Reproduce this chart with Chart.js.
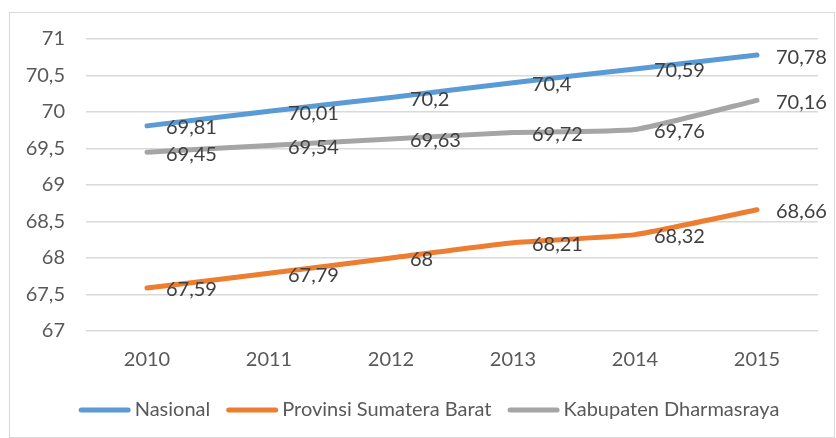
<!DOCTYPE html>
<html><head><meta charset="utf-8">
<script src="https://cdn.jsdelivr.net/npm/chart.js@4"></script>
<style>
html,body{margin:0;padding:0;background:#fff;}
#wrap{position:relative;width:836px;height:438px;}
#frame{position:absolute;left:9px;top:12px;width:826px;height:426px;border:1.5px solid #d9d9d9;box-sizing:border-box;}
canvas{position:absolute;left:0;top:0;}
</style></head>
<body><div id="wrap"><div id="frame"></div><canvas id="c" width="836" height="438"></canvas></div>
<script>
const years = ['2010','2011','2012','2013','2014','2015'];
const nasional = [69.81, 70.01, 70.2, 70.4, 70.59, 70.78];
const sumbar = [67.59, 67.79, 68, 68.21, 68.32, 68.66];
const dharmasraya = [69.45, 69.54, 69.63, 69.72, 69.76, 70.16];
const seriesNames = ['Nasional', 'Provinsi Sumatera Barat', 'Kabupaten Dharmasraya'];
const yTicks = [67, 67.5, 68, 68.5, 69, 69.5, 70, 70.5, 71];

const fmt = v => String(v).replace('.', ',');
const FONT = 'Lato, "Liberation Sans", sans-serif';
const TEXT = '#595959';

const labelPlugin = {
  id: 'pointLabels',
  afterDatasetsDraw(chart) {
    const ctx = chart.ctx;
    ctx.save();
    ctx.font = '20px ' + FONT;
    ctx.fillStyle = '#404040';
    ctx.textAlign = 'left';
    ctx.textBaseline = 'middle';
    chart.data.datasets.forEach((ds, i) => {
      const meta = chart.getDatasetMeta(i);
      meta.data.forEach((pt, j) => {
        ctx.fillText(fmt(ds.data[j]), pt.x + 19, pt.y + 2);
      });
    });
    ctx.restore();
  }
};

// custom bottom legend (text drawn from dataset labels)
const legendPlugin = {
  id: 'customLegend',
  afterDraw(chart) {
    const ctx = chart.ctx;
    ctx.save();
    ctx.font = '20px ' + FONT;
    const lineLen = 52, gapText = 4, gapItem = 16;
    const items = chart.data.datasets.map(ds => ({
      label: ds.label, color: ds.borderColor, w: ctx.measureText(ds.label).width
    }));
    const total = items.reduce((s, it) => s + lineLen + gapText + it.w, 0) + gapItem * (items.length - 1);
    let x = 429 - total / 2;
    const y = 410;
    ctx.textBaseline = 'middle';
    ctx.textAlign = 'left';
    items.forEach(it => {
      ctx.strokeStyle = it.color;
      ctx.lineWidth = 5;
      ctx.lineCap = 'round';
      ctx.beginPath();
      ctx.moveTo(x + 2.5, y);
      ctx.lineTo(x + lineLen - 2.5, y);
      ctx.stroke();
      ctx.fillStyle = TEXT;
      ctx.fillText(it.label, x + lineLen + gapText, y);
      x += lineLen + gapText + it.w + gapItem;
    });
    ctx.restore();
  }
};

function mk(label, data, color) {
  return {
    label, data,
    borderColor: color, backgroundColor: color,
    borderWidth: 5, borderCapStyle: 'round', borderJoinStyle: 'round',
    pointRadius: 0, pointHoverRadius: 0, tension: 0.15, fill: false
  };
}

new Chart(document.getElementById('c'), {
  type: 'line',
  data: {
    labels: years,
    datasets: [
      mk(seriesNames[0], nasional, '#5B9BD5'),
      mk(seriesNames[1], sumbar, '#ED7D31'),
      mk(seriesNames[2], dharmasraya, '#A5A5A5')
    ]
  },
  plugins: [labelPlugin, legendPlugin],
  options: {
    responsive: false, animation: false, devicePixelRatio: 1,
    layout: { padding: { left: 0, right: 18, top: 39, bottom: 0 } },
    plugins: {
      tooltip: { enabled: false },
      legend: { display: false }
    },
    scales: {
      x: {
        offset: true,
        grid: { display: false, drawTicks: false },
        border: { display: false },
        ticks: { color: TEXT, font: { family: FONT, size: 20 }, padding: 17 },
        afterFit(s) { s.height = 107; }
      },
      y: {
        min: 67, max: 71,
        afterBuildTicks(s) { s.ticks = yTicks.map(v => ({ value: v })); },
        grid: { color: '#d9d9d9', lineWidth: 1.5, drawTicks: false },
        border: { display: false },
        ticks: { color: TEXT, font: { family: FONT, size: 20 }, padding: 21, callback: v => fmt(v) },
        afterFit(s) { s.width = 86; }
      }
    }
  }
});
</script></body></html>
